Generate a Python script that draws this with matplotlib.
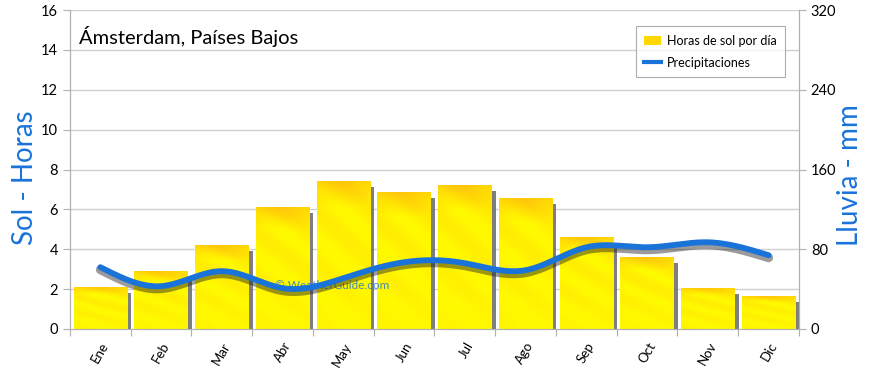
import numpy as np
import matplotlib
matplotlib.use("Agg")
import matplotlib.pyplot as plt
from matplotlib.patches import Rectangle
from matplotlib.lines import Line2D
import matplotlib.transforms as mtransforms

months = ["Ene", "Feb", "Mar", "Abr", "May", "Jun", "Jul", "Ago", "Sep", "Oct", "Nov", "Dic"]
sun_hours = [2.1, 2.9, 4.2, 6.1, 7.4, 6.85, 7.2, 6.55, 4.6, 3.6, 2.05, 1.65]
rain_mm = [62, 43, 58, 41, 51, 67, 66, 59, 82, 82, 87, 74]

plt.rcParams['font.family'] = ['Lato', 'DejaVu Sans']

fig = plt.figure(figsize=(8.7, 3.68), dpi=100)
ax = fig.add_axes([70/870, 1-329/368, (799-70)/870, (329-10)/368])
ax2 = ax.twinx()

x = np.arange(len(months))
ax.set_xlim(-0.5, 11.5)
ax.set_ylim(0, 16)
ax2.set_ylim(0, 320)

# grid
for v in range(2, 17, 2):
    ax.axhline(v, color='#d0d0d0', lw=1, zorder=0)

# gradient image for bars
yellow = np.array([1.0, 0.98, 0.0])
orange = np.array([1.0, 0.72, 0.05])
rows = np.linspace(0, 1, 256)
cols = np.linspace(0, 1, 64)
R, C = np.meshgrid(rows, cols, indexing='ij')
band = 0.5 + 0.5 * np.sin(18 * R + 6 * C)
mix = np.clip(0.25 * band * (0.3 + 0.7 * R), 0, 1)
top = np.clip((R - 0.82) / 0.18, 0, 1) * 0.55
mix = np.clip(mix + top, 0, 1)
img = yellow[None, None, :] * (1 - mix[..., None]) + orange[None, None, :] * mix[..., None]

bw = 0.88
bars = ax.bar(x, sun_hours, width=bw, color='#FFF200', zorder=2, linewidth=0)
for b in bars:
    bx, by, w, h = b.get_x(), b.get_y(), b.get_width(), b.get_height()
    off = mtransforms.offset_copy(ax.transData, fig=fig, x=4, y=-6, units='dots')
    sh = Rectangle((bx, by), w, h, transform=off, facecolor='#707070', alpha=0.9, zorder=1.5, lw=0)
    sh.set_clip_path(Rectangle((-0.5, 0), 12, 16, transform=ax.transData))
    ax.add_patch(sh)
    im = ax.imshow(img, extent=[bx, bx + w, by, by + h], origin='lower', aspect='auto', zorder=2.1)
    im.set_clip_path(b)
ax.set_xlim(-0.5, 11.5)
ax.set_ylim(0, 16)

# smooth line (natural cubic spline for drawing)
def spline(xs, ys, n=400):
    xs = np.asarray(xs, float); ys = np.asarray(ys, float)
    m = len(xs); h = np.diff(xs)
    A = np.zeros((m, m)); rhs = np.zeros(m)
    A[0, 0] = A[-1, -1] = 1
    for i in range(1, m - 1):
        A[i, i-1] = h[i-1]; A[i, i] = 2*(h[i-1]+h[i]); A[i, i+1] = h[i]
        rhs[i] = 3*((ys[i+1]-ys[i])/h[i] - (ys[i]-ys[i-1])/h[i-1])
    c = np.linalg.solve(A, rhs)
    b = np.zeros(m-1); d = np.zeros(m-1)
    for i in range(m-1):
        b[i] = (ys[i+1]-ys[i])/h[i] - h[i]*(2*c[i]+c[i+1])/3
        d[i] = (c[i+1]-c[i])/(3*h[i])
    xx = np.linspace(xs[0], xs[-1], n)
    idx = np.clip(np.searchsorted(xs, xx) - 1, 0, m-2)
    dx = xx - xs[idx]
    yy = ys[idx] + b[idx]*dx + c[idx]*dx**2 + d[idx]*dx**3
    return xx, yy

xx, yy = spline(x, rain_mm)
sh_off = mtransforms.offset_copy(ax2.transData, fig=fig, x=0, y=-2.5, units='dots')
ax2.plot(xx, yy, color='#222222', lw=6.5, alpha=0.45, transform=sh_off, solid_capstyle='round', zorder=3)
ax2.plot(xx, yy, color='#1A73D9', lw=4.2, solid_capstyle='round', zorder=4)

# ticks
ax.set_yticks(range(0, 17, 2))
ax2.set_yticks(range(0, 321, 80))
ax.set_xticks(np.arange(-0.5, 12, 1))
ax.set_xticklabels([])
ax.set_xticks(x, minor=True)
ax.set_xticklabels(months, minor=True, rotation=60, fontsize=9.5, ha='right', va='top', rotation_mode='anchor')
ax.tick_params(axis='x', which='minor', length=0, pad=8)
ax.tick_params(axis='x', which='major', length=5, color='#b0b0b0')
ax.tick_params(axis='y', length=5, color='#b0b0b0', labelsize=10.5)
ax2.tick_params(axis='y', length=5, color='#b0b0b0', labelsize=10.5)

for a in (ax, ax2):
    a.spines['top'].set_visible(False)
    for s in ['left', 'right', 'bottom']:
        a.spines[s].set_color('#b0b0b0')

fig.text(25/870, 1-178/368, "Sol - Horas", color='#1A73D9', fontsize=20, rotation=90, ha='center', va='center')
fig.text(850/870, 1-175/368, "Lluvia - mm", color='#1A73D9', fontsize=20, rotation=90, ha='center', va='center')

ax.text(0.012, 0.95, "Ámsterdam, Países Bajos", transform=ax.transAxes, fontsize=14.5, va='top', ha='left', zorder=6)
ax.text(0.36, 0.135, "© WeatherGuide.com", transform=ax.transAxes, fontsize=8.5, color='#1A73D9', alpha=0.8, ha='center', va='center', zorder=5)

handles = [Rectangle((0, 0), 1, 1, facecolor='#FFD800', edgecolor='none'),
           Line2D([0], [0], color='#1A73D9', lw=3)]
leg = ax2.legend(handles, ["Horas de sol por día", "Precipitaciones"], loc='upper right',
                 bbox_to_anchor=(0.99, 0.97), fontsize=9, frameon=True, fancybox=False,
                 handlelength=1.3, borderpad=0.7, labelspacing=0.8, handletextpad=0.5)
leg.get_frame().set_edgecolor('#999999')
leg.get_frame().set_linewidth(0.8)
leg.set_zorder(10)

fig.savefig("out.png", dpi=100)
